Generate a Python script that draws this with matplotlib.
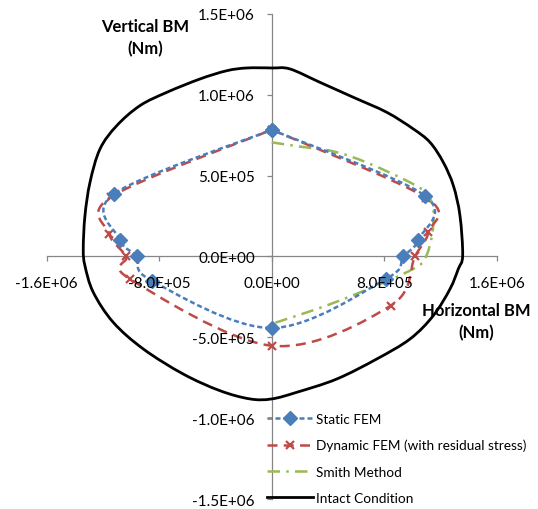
import numpy as np
import matplotlib
matplotlib.use("Agg")
import matplotlib.pyplot as plt
from matplotlib.path import Path
from matplotlib.patches import PathPatch
from matplotlib.lines import Line2D
from matplotlib.ticker import FuncFormatter

plt.rcParams['font.family'] = ['Lato', 'DejaVu Sans']

# bending moments, in units of 1e6 Nm
static_h = [0.0, 1.090, 1.043, 0.936, 0.813, 0.0, -0.853, -0.960, -1.079, -1.122, 0.0]
static_v = [0.784, 0.376, 0.104, 0.0, -0.139, -0.442, -0.150, 0.0, 0.104, 0.387, 0.784]

dynamic_h = [0.0, 1.100, 1.114, 1.019, 0.846, 0.0, -1.008, -1.036, -1.155, -1.140, 0.0]
dynamic_v = [0.784, 0.362, 0.150, 0.0, -0.304, -0.552, -0.139, 0.0, 0.139, 0.370, 0.784]

smith_h = [0.0, 0.20, 0.44, 0.68, 0.98, 1.10, 1.15, 1.14, 1.10, 1.04, 0.80, 0.40, 0.0]
smith_v = [0.706, 0.68, 0.65, 0.58, 0.46, 0.39, 0.29, 0.13, 0.005, -0.06, -0.16, -0.30, -0.417]

intact_h = [0.0, 0.130, 0.344, 0.580, 0.818, 1.007, 1.126, 1.220, 1.292, 1.339, 1.358,
            1.327, 1.268, 1.149, 0.984, 0.747, 0.462, 0.178, 0.0, -0.154, -0.368, -0.629,
            -0.913, -1.127, -1.269, -1.328, -1.340, -1.328, -1.292, -1.221, -1.102, -0.937,
            -0.747, -0.510, -0.320, -0.178]
intact_v = [1.166, 1.160, 1.077, 0.985, 0.892, 0.789, 0.706, 0.583, 0.438, 0.252, 0.005,
            -0.077, -0.201, -0.366, -0.510, -0.634, -0.758, -0.840, -0.881, -0.881, -0.830,
            -0.727, -0.572, -0.407, -0.221, -0.057, 0.046, 0.252, 0.459, 0.665, 0.809, 0.933,
            1.015, 1.098, 1.149, 1.166]

series_names = ["Static FEM", "Dynamic FEM (with residual stress)", "Smith Method", "Intact Condition"]
x_ticks = [-1.6e6, -8e5, 0, 8e5, 1.6e6]
y_ticks = [-1.5e6, -1.0e6, -5e5, 0, 5e5, 1.0e6, 1.5e6]

BLUE = "#4A7EBB"
RED = "#BE4B48"
GREEN = "#98B954"


def smooth_path(xs, ys, closed=False):
    # spreadsheet style smoothed line: cubic bezier through every point
    pts = np.column_stack([xs, ys]) * 1e6
    n = len(pts)
    verts = [pts[0]]
    codes = [Path.MOVETO]
    segs = n if closed else n - 1
    for i in range(segs):
        p1 = pts[i]
        p2 = pts[(i + 1) % n]
        if closed:
            p0 = pts[(i - 1) % n]
            p3 = pts[(i + 2) % n]
        else:
            p0 = pts[i - 1] if i > 0 else p1
            p3 = pts[i + 2] if i + 2 < n else p2
        verts += [p1 + (p2 - p0) / 6, p2 - (p3 - p1) / 6, p2]
        codes += [Path.CURVE4] * 3
    return Path(verts, codes)


fig = plt.figure(figsize=(5.38, 5.10), dpi=100)
ax = fig.add_axes([0.0868, 0.0196, 0.8364, 0.951])

ax.add_patch(PathPatch(smooth_path(intact_h, intact_v, closed=True), fill=False,
                       edgecolor="black", lw=2.0, zorder=2))
ax.add_patch(PathPatch(smooth_path(smith_h, smith_v), fill=False, edgecolor=GREEN,
                       lw=1.8, linestyle=(0, (5, 2.5, 1, 2.5)), zorder=3))
ax.add_patch(PathPatch(smooth_path(dynamic_h, dynamic_v), fill=False, edgecolor=RED,
                       lw=1.8, linestyle=(0, (4, 2.5)), zorder=4))
ax.plot(np.array(dynamic_h) * 1e6, np.array(dynamic_v) * 1e6, ls="none", marker="x",
        ms=6, mew=1.6, color=RED, zorder=4)
ax.add_patch(PathPatch(smooth_path(static_h, static_v), fill=False, edgecolor=BLUE,
                       lw=1.8, linestyle=(0, (2, 1.2)), zorder=5))
ax.plot(np.array(static_h) * 1e6, np.array(static_v) * 1e6, ls="none", marker="D",
        ms=7.5, color=BLUE, zorder=5)

ax.set_xlim(-1.6e6, 1.6e6)
ax.set_ylim(-1.5e6, 1.5e6)
ax.set_xticks(x_ticks)
ax.set_yticks(y_ticks)
fmt = FuncFormatter(lambda v, pos: "%.1E" % v)
ax.xaxis.set_major_formatter(fmt)
ax.yaxis.set_major_formatter(fmt)

ax.spines['left'].set_position('zero')
ax.spines['bottom'].set_position('zero')
ax.spines['right'].set_visible(False)
ax.spines['top'].set_visible(False)
for s in ('left', 'bottom'):
    ax.spines[s].set_color("#868686")
    ax.spines[s].set_linewidth(0.9)
    ax.spines[s].set_zorder(1)
# tick labels sit on top of the series
ax.xaxis.set_zorder(6)
ax.yaxis.set_zorder(6)
ax.tick_params(direction='out', length=3.6, width=0.9, color="#868686", labelsize=11)
ax.tick_params(axis='x', pad=10.5)
ax.tick_params(axis='y', pad=8.5)
ax.patch.set_visible(False)

ax.text(0.27, 0.926, "Vertical BM\n(Nm)", transform=fig.transFigure, ha="center",
        va="center", fontsize=12, fontweight="bold", linespacing=1.45)
ax.text(0.885, 0.369, "Horizontal BM\n(Nm)", transform=fig.transFigure, ha="center",
        va="center", fontsize=12, fontweight="bold", linespacing=1.45)

handles = [
    Line2D([], [], color=BLUE, lw=1.8, ls=(0, (2, 1.2)), marker="D", ms=7.5),
    Line2D([], [], color=RED, lw=1.8, ls=(0, (4, 2.5)), marker="x", ms=6, mew=1.6),
    Line2D([], [], color=GREEN, lw=1.8, ls=(0, (5, 2.5, 1, 2.5))),
    Line2D([], [], color="black", lw=2.0),
]
ax.legend(handles, series_names, loc="upper left", bbox_to_anchor=(0.496, 0.189),
          bbox_transform=fig.transFigure, frameon=False, fontsize=9.8,
          handlelength=3.4, handletextpad=0.2, labelspacing=1.05,
          borderpad=0, borderaxespad=0)

fig.savefig("out.png", dpi=100)
